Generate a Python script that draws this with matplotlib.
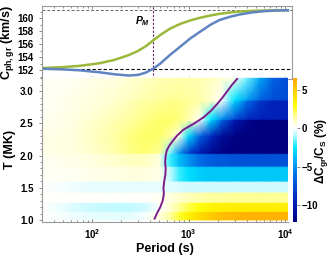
import numpy as np
import matplotlib.pyplot as plt
from matplotlib.colors import LinearSegmentedColormap, Normalize

plt.rcParams['font.family'] = ['Liberation Sans', 'DejaVu Sans']
plt.rcParams['font.weight'] = 'bold'
plt.rcParams['axes.labelweight'] = 'bold'
plt.rcParams['mathtext.fontset'] = 'custom'
plt.rcParams['mathtext.rm'] = 'Liberation Sans:bold'
plt.rcParams['mathtext.it'] = 'Liberation Sans:bold:italic'
plt.rcParams['mathtext.bf'] = 'Liberation Sans:bold'
plt.rcParams['mathtext.default'] = 'rm'

# Panel superior: velocidades de fase y de grupo (km/s)
period_top = [30, 50, 75, 120, 170, 240, 300, 360, 430, 510, 640, 820, 1050,
              1320, 1700, 2100, 2700, 3400, 4500, 6000, 8000, 10700]
c_phase = [152.3, 152.45, 152.65, 153.05, 153.55, 154.3, 154.95, 155.65,
           156.55, 157.4, 158.35, 159.1, 159.65, 160.05, 160.4, 160.65,
           160.85, 161.0, 161.1, 161.15, 161.2, 161.2]
c_group = [152.2, 152.1, 151.95, 151.65, 151.35, 151.15, 151.25, 151.6,
           152.2, 153.0, 154.3, 155.6, 156.9, 157.9, 159.0, 159.7, 160.2,
           160.55, 160.85, 161.05, 161.15, 161.2]
c_high = 161.2
c_low = 152.2
p_m = 428

# Panel inferior: mapa de Delta C_gr / C_S (%)
period_cols = [30, 60, 100, 170, 250, 350, 500, 650, 800, 1000, 1300, 1700,
               2200, 3000, 4000, 5500, 7500, 10700]
band1 = [0, -0.2, -0.3, -0.3, -0.3, -0.1, 0.5, 1.5, 2.5, 3.5, 4.3, 5.0, 5.5,
         5.8, 6.0, 6.0, 6.0, 6.0]
band2 = [0, -0.4, -0.7, -0.8, -0.8, -0.6, 0.0, 0.8, 1.6, 2.3, 2.9, 3.3, 3.5,
         3.6, 3.6, 3.6, 3.6, 3.6]
band3 = [0, 0, 0, 0, 0, 0, 0.2, 0.5, 0.8, 1.1, 1.3, 1.5, 1.5, 1.6, 1.6, 1.6,
         1.6, 1.6]
band4 = [0, -0.2, -0.3, -0.35, -0.35, -0.3, -0.3, -0.4, -0.5, -0.6, -0.6,
         -0.6, -0.6, -0.6, -0.6, -0.6, -0.6, -0.6]
band5 = [0.1, 0.2, 0.3, 0.4, 0.5, 0.5, 0.3, -0.8, -2.0, -2.8, -3.3, -3.5,
         -3.5, -3.5, -3.5, -3.5, -3.5, -3.5]
band6 = [0.2, 0.3, 0.5, 0.8, 1.0, 1.0, 0.5, -2.0, -3.8, -5.0, -6.2, -6.8,
         -7.0, -7.2, -7.2, -7.2, -7.2, -7.2]
temp_rows = [1.00, 1.12, 1.14, 1.26, 1.28, 1.42, 1.44, 1.59, 1.61, 1.82,
             1.84, 2.02, 2.04, 2.30, 2.55, 2.57, 2.85, 2.87, 3.20]
delta_c = [
    band1, band1, band2, band2, band3, band3, band4, band4, band5, band5,
    band6, band6,
    [0.3, 0.5, 0.8, 1.3, 1.7, 1.9, 1.6, -1.5, -5.0, -8.0, -10.0, -11.3, -12.0,
     -12.2, -12.2, -12.2, -12.2, -12.2],
    [0.3, 0.5, 0.9, 1.4, 1.8, 2.0, 2.0, 1.4, 0.3, -3.0, -6.5, -9.0, -11.0,
     -12.0, -12.2, -12.2, -12.2, -12.2],
    [0.2, 0.4, 0.8, 1.2, 1.5, 1.8, 2.0, 2.0, 1.8, 1.3, 0.2, -3.0, -6.5, -10.0,
     -11.5, -12.2, -12.2, -12.2],
    [0.2, 0.4, 0.7, 1.1, 1.4, 1.7, 1.9, 1.9, 1.8, 1.3, 0.2, -2.5, -5.0, -7.5,
     -9.0, -9.5, -9.5, -9.5],
    [0.1, 0.3, 0.5, 0.8, 1.1, 1.4, 1.6, 1.7, 1.7, 1.6, 1.4, 0.9, 0.0, -3.0,
     -6.0, -8.5, -9.5, -9.5],
    [0.1, 0.3, 0.5, 0.8, 1.0, 1.3, 1.5, 1.6, 1.6, 1.5, 1.3, 0.8, 0.0, -2.5,
     -4.5, -6.5, -7.5, -7.5],
    [0.1, 0.2, 0.3, 0.5, 0.7, 0.9, 1.1, 1.2, 1.3, 1.3, 1.2, 1.0, 0.8, 0.3,
     -1.5, -4.5, -6.5, -7.5],
]

# Curva P_M(T)
curve_t = [1.02, 1.10, 1.20, 1.30, 1.40, 1.50, 1.60, 1.70, 1.80, 1.90, 2.00,
           2.08, 2.15, 2.22, 2.30, 2.40, 2.50, 2.60, 2.70, 2.80, 2.90, 3.00,
           3.10, 3.19]
curve_p = [445, 470, 510, 540, 555, 550, 560, 575, 580, 572, 580, 595, 630,
           680, 750, 880, 1150, 1450, 1720, 1980, 2250, 2520, 2830, 3190]

cbar_ticks = [5, 0, -5, -10]
vmin, vmax = -12.2, 6.5

cmap_vals = [-12.2, -10, -8, -6, -4, -2.5, -1, 0, 1.5, 3, 4.5, 6.5]
cmap_cols = ['#000080', '#0018b0', '#0040d0', '#0070e8', '#00b8f8', '#00e8ff',
             '#b0f8ff', '#ffffff', '#ffffa0', '#ffff00', '#ffd800', '#ffa800']
cmap = LinearSegmentedColormap.from_list(
    'dc', [((v - vmin) / (vmax - vmin), c) for v, c in zip(cmap_vals, cmap_cols)])

frame_col = '#999999'


def style_axis(ax):
    for s in ax.spines.values():
        s.set_color(frame_col)
        s.set_linewidth(0.8)
    ax.tick_params(which='both', colors='#777777', labelcolor='black',
                   labelsize=7, width=0.6)
    ax.tick_params(axis='x', which='both', direction='in')
    ax.tick_params(axis='y', which='both', direction='out')
    ax.tick_params(which='major', length=2.5)
    ax.tick_params(which='minor', length=1.5)


fig = plt.figure(figsize=(3.32, 2.56), dpi=100)
W, H = 332, 256
ax1 = fig.add_axes([42 / W, 1 - 79 / H, 250 / W, 73 / H])
ax2 = fig.add_axes([42 / W, 34 / H, 246 / W, 145 / H])
cax = fig.add_axes([293 / W, 34 / H, 4 / W, 144 / H])

# Panel superior
ax1.axhline(c_high, color='#666666', ls=(0, (3, 2)), lw=0.7)
ax1.axhline(c_low, color='black', ls=(0, (3, 2)), lw=0.8)
ax1.axvline(p_m, color='#6a1a6a', ls=(0, (2, 1.5)), lw=0.8)
ax1.plot(period_top, c_phase, color='#9bb83a', lw=1.8)
ax1.plot(period_top, c_group, color='#5f84c0', lw=1.8)
ax1.text(395, 159.5, r'$\mathit{P}_{\mathit{M}}$', ha='right', va='center',
         fontsize=7.5)
ax1.set_xscale('log')
ax1.set_xlim(30.3, 11800)
ax1.set_ylim(150.62, 161.85)
ax1.set_yticks([152, 154, 156, 158, 160])
ax1.set_yticks(np.arange(151, 161.5, 1), minor=True)
style_axis(ax1)
ax1.tick_params(axis='x', which='both', top=True, labelbottom=False)
ax1.set_ylabel(r'C$_{\mathrm{ph,gr}}$ (km/s)', fontsize=9, labelpad=1)

# Panel inferior
norm = Normalize(vmin=vmin, vmax=vmax)
mesh = ax2.pcolormesh(period_cols, temp_rows, np.array(delta_c),
                      shading='gouraud', cmap=cmap, norm=norm)
ax2.plot(curve_p, curve_t, color='#7b1e8c', lw=1.4)
ax2.set_xscale('log')
ax2.set_xlim(30.3, 10740)
ax2.set_ylim(0.968, 3.22)
ax2.set_xticks([100, 1000, 10000])
ax2.set_xticklabels(['$10^2$', '$10^3$', '$10^4$'])
ax2.set_yticks([1.0, 1.5, 2.0, 2.5, 3.0])
ax2.set_yticklabels(['1.0', '1.5', '2.0', '2.5', '3.0'])
ax2.set_yticks(np.arange(1.0, 3.21, 0.1), minor=True)
style_axis(ax2)
ax2.spines['top'].set_visible(False)
ax2.spines['right'].set_visible(False)
ax2.set_xlabel('Period (s)', fontsize=9, labelpad=2)
ax2.set_ylabel('T (MK)', fontsize=9, labelpad=3)

# Barra de color
cb = fig.colorbar(mesh, cax=cax, ticks=cbar_ticks)
cb.outline.set_visible(False)
cax.tick_params(labelsize=7, length=2, width=0.6, colors='#777777',
                labelcolor='black', pad=1.5)
fig.text(321 / W, 1 - 151 / H, r'ΔC$_{\mathrm{gr}}$/C$_{\mathrm{S}}$ (%)',
         rotation=90, ha='center', va='center', fontsize=8.5)

fig.savefig('out.png', dpi=100)
